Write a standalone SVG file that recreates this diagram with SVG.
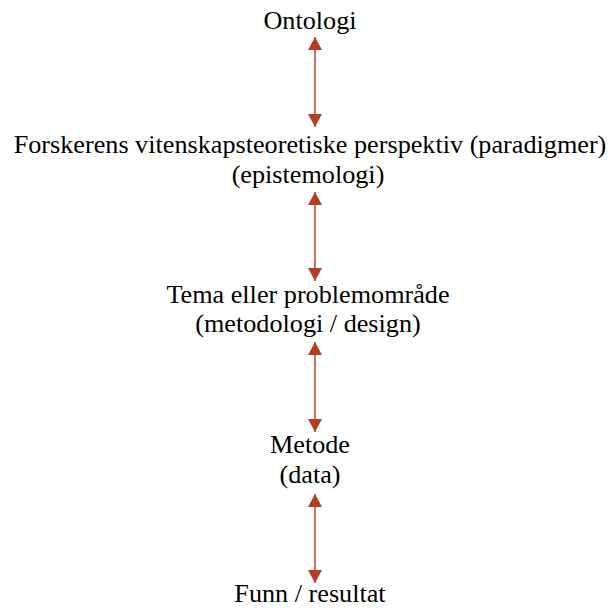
<svg xmlns="http://www.w3.org/2000/svg" width="610" height="609" viewBox="0 0 610 609">
<style>
text{font-family:"Liberation Serif","Times New Roman",serif;font-size:26.2px;fill:#000;text-anchor:middle}
.c{stroke:#c0432a;stroke-width:1.5;fill:none;marker-start:url(#h);marker-end:url(#h)}
</style>
<defs>
<marker id="h" viewBox="0 0 13 14" refX="13" refY="7" markerWidth="13" markerHeight="14" markerUnits="userSpaceOnUse" orient="auto-start-reverse">
<path d="M0,0 L13,7 L0,14 Z" fill="#b83c22"/>
</marker>
</defs>
<rect width="610" height="609" fill="#fff"/>
<g id="connectors">
<line class="c" x1="315" y1="37" x2="315" y2="127"/>
<line class="c" x1="315" y1="192" x2="315" y2="281"/>
<line class="c" x1="315" y1="342" x2="315" y2="432"/>
<line class="c" x1="315" y1="494" x2="315" y2="583"/>
</g>
<g id="ontologi"><text x="310" y="29">Ontologi</text></g>
<g id="epistemologi"><text x="310" y="153">Forskerens vitenskapsteoretiske perspektiv (paradigmer)</text><text x="308" y="183">(epistemologi)</text></g>
<g id="metodologi"><text x="308" y="303">Tema eller problemområde</text><text x="308" y="332">(metodologi / design)</text></g>
<g id="metode"><text x="310" y="453">Metode</text><text x="310" y="483">(data)</text></g>
<g id="funn"><text x="310" y="602">Funn / resultat</text></g>
</svg>
